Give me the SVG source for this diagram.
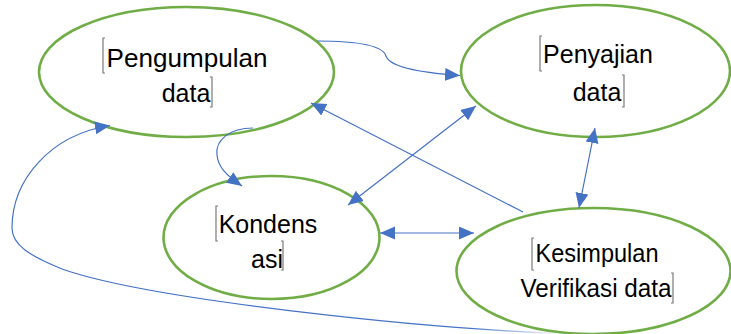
<svg xmlns="http://www.w3.org/2000/svg" width="731" height="334" viewBox="0 0 731 334">
<style>
.node{fill:#fff;stroke:#70AD47;stroke-width:2.6}
.lbl{font-family:"Liberation Sans",Arial,sans-serif;font-size:25px;fill:#000;text-anchor:middle}
.br{fill:none;stroke:#7a7a7a;stroke-width:1.2}
.c{fill:none;stroke:#4472C4;stroke-width:1.2}
</style>
<defs>
<marker id="ah" markerUnits="userSpaceOnUse" markerWidth="16" markerHeight="14" refX="15" refY="6.5" orient="auto-start-reverse" viewBox="0 0 16 14">
<path d="M0,0 L15,6.5 L0,13 z" fill="#4472C4"/>
</marker>
<linearGradient id="fade" gradientUnits="userSpaceOnUse" x1="470" y1="0" x2="560" y2="0">
<stop offset="0" stop-color="#4472C4" stop-opacity="1"/>
<stop offset="1" stop-color="#4472C4" stop-opacity="0"/>
</linearGradient>
</defs>
<rect width="731" height="334" fill="#fff"/>
<g id="n1">
<ellipse class="node" cx="186.5" cy="72" rx="147.5" ry="65"/>
<text class="lbl" x="187" y="66.5" textLength="161" lengthAdjust="spacingAndGlyphs">Pengumpulan</text>
<text class="lbl" x="186" y="102">data</text>
<path class="br" d="M105,38 H103 V73 H105"/>
<path class="br" d="M210,77 H212 V107 H210"/>
</g>
<g id="n2">
<ellipse class="node" cx="595.5" cy="71" rx="134.5" ry="66"/>
<text class="lbl" x="598" y="63">Penyajian</text>
<text class="lbl" x="597" y="101">data</text>
<path class="br" d="M542,36 H540 V71 H542"/>
<path class="br" d="M622,75 H624 V107 H622"/>
</g>
<g id="n3">
<ellipse class="node" cx="271.5" cy="237.5" rx="108" ry="61.5"/>
<text class="lbl" x="268" y="233">Kondens</text>
<text class="lbl" x="267" y="268">asi</text>
<path class="br" d="M218,206 H216 V241 H218"/>
<path class="br" d="M281,241 H283 V270 H281"/>
</g>
<g id="n4">
<ellipse class="node" cx="593.5" cy="271" rx="137" ry="63"/>
<text class="lbl" x="597" y="262" textLength="123" lengthAdjust="spacingAndGlyphs">Kesimpulan</text>
<text class="lbl" x="596" y="297" textLength="151" lengthAdjust="spacingAndGlyphs">Verifikasi data</text>
<path class="br" d="M534,238 H532 V270 H534"/>
<path class="br" d="M671,273 H673 V303 H671"/>
</g>
<g id="connectors">
<path class="c" d="M317,41 C360,41 383,46 386,56 C389,65 410,72 460,75.5" marker-end="url(#ah)"/>
<path class="c" d="M253,128 C230,128 215,140 217,155 C218,167 226,175 242,186" marker-end="url(#ah)"/>
<path class="c" style="stroke:url(#fade)" d="M560,333.5 C420,328 150,300 62,269"/>
<path class="c" d="M62,269 C30,256 12,245 12,228 C12,180 50,135 110,125.5" marker-end="url(#ah)"/>
<path class="c" d="M523,212 L311,103" marker-end="url(#ah)"/>
<path class="c" d="M348,205 L476,106" marker-start="url(#ah)" marker-end="url(#ah)"/>
<path class="c" d="M595,128 L579,208" marker-start="url(#ah)" marker-end="url(#ah)"/>
<path class="c" d="M380,233 L474,233" marker-start="url(#ah)" marker-end="url(#ah)"/>
</g>
</svg>
